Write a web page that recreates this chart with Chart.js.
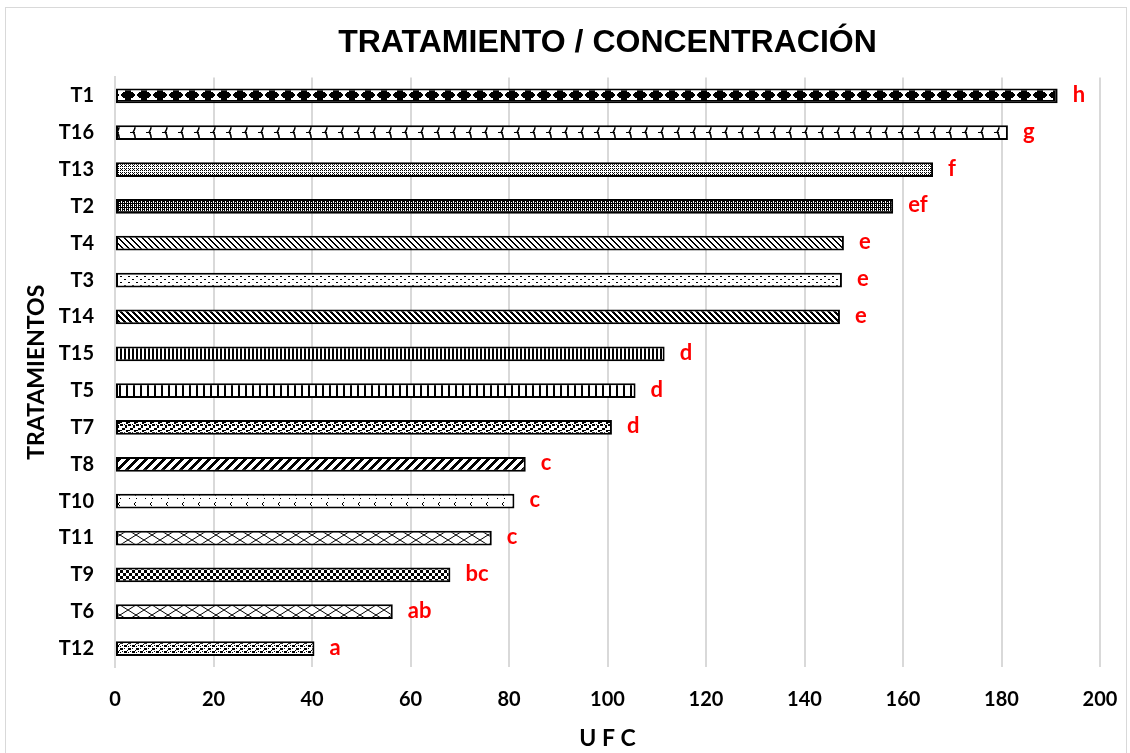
<!DOCTYPE html>
<html>
<head>
<meta charset="utf-8">
<script src="https://cdn.jsdelivr.net/npm/chart.js@4.4.0/dist/chart.umd.min.js"></script>
<style>
  html, body { margin: 0; padding: 0; background: #fff; }
  #wrap { position: relative; width: 1130px; height: 753px; }
</style>
</head>
<body>
<div id="wrap"><canvas id="chart" width="1130" height="753"></canvas></div>
<script>
// data
const treatments = ["T1", "T16", "T13", "T2", "T4", "T3", "T14", "T15", "T5", "T7", "T8", "T10", "T11", "T9", "T6", "T12"];
const ufc = [191.4, 181.3, 166.1, 158.0, 148.0, 147.6, 147.2, 111.6, 105.7, 100.9, 83.4, 81.1, 76.5, 68.1, 56.4, 40.5];
const letters = ["h", "g", "f", "ef", "e", "e", "e", "d", "d", "d", "c", "c", "c", "bc", "ab", "a"];
const xTicks = [0, 20, 40, 60, 80, 100, 120, 140, 160, 180, 200];

const LABEL_FONT = "Lato";

/* PATTERN TILES (Excel style fills) */
function tile(w, h, draw) {
  const c = document.createElement("canvas");
  c.width = w; c.height = h;
  const g = c.getContext("2d");
  g.fillStyle = "#fff"; g.fillRect(0, 0, w, h);
  g.fillStyle = "#000"; g.strokeStyle = "#000";
  draw(g, w, h);
  return g.createPattern(c, "repeat");
}

function pixels(g, w, h, test) {
  for (let y = 0; y < h; y++)
    for (let x = 0; x < w; x++)
      if (test(x, y)) g.fillRect(x, y, 1, 1);
}

// hourglass rows [x, width] around the middle of the T1 bar (tile row 11 ~ bar centre)
const hourglassRows = { "-5": [3, 10], "-4": [3, 10], "-3": [5, 6], "-2": [6, 4], "-1": [7, 2], "0": [7, 2], "1": [6, 4], "2": [5, 6], "3": [3, 10], "4": [3, 10] };

const patterns = {
  hourglass: tile(16, 12, g => {
    g.fillRect(0, 0, 16, 12);
    g.fillStyle = "#fff";
    Object.keys(hourglassRows).forEach(k => {
      const [x, w] = hourglassRows[k];
      g.fillRect(x, (11 + Number(k) + 12) % 12, w, 1);
    });
  }),
  shingle: tile(16, 12, g => {
    g.lineWidth = 1.5;
    g.beginPath(); g.arc(-4, 6, 11, -0.6, 0.6); g.stroke();
    g.fillRect(2, 0, 5, 1);
  }),
  dotGrid: tile(4, 4, (g, w, h) => pixels(g, w, h, (x, y) => (x % 2 === 0 && y % 2 === 0) || (x === 1 && y === 1))),
  darkDots: tile(4, 4, (g, w, h) => pixels(g, w, h, (x, y) => !((x + y) % 2 === 1 && y % 2 === 0) && !(x === 1 && y === 1))),
  lightDown: tile(6, 6, (g, w, h) => pixels(g, w, h, (x, y) => ((x - y + 12) % 6) < 2)),
  sparseDots: tile(8, 6, g => { g.fillRect(0, 0, 2, 1); g.fillRect(4, 3, 2, 1); }),
  darkDown: tile(6, 6, (g, w, h) => pixels(g, w, h, (x, y) => ((x - y + 12) % 6) < 3)),
  narrowVert: tile(4, 1, g => g.fillRect(0, 0, 2, 1)),
  wideVert: tile(7, 1, g => g.fillRect(0, 0, 2, 1)),
  confetti: tile(8, 8, g => {
    g.fillRect(0, 0, 3, 2); g.fillRect(5, 1, 2, 3); g.fillRect(2, 4, 3, 2);
    g.fillRect(6, 6, 2, 2); g.fillRect(0, 6, 2, 1); g.fillRect(4, 0, 1, 1);
  }),
  wideUp: tile(9, 9, (g, w, h) => pixels(g, w, h, (x, y) => ((x + y) % 9) < 4)),
  smallMarks: tile(16, 10, g => {
    g.fillRect(7, 2, 1, 1); g.fillRect(6, 3, 1, 2); g.fillRect(7, 5, 1, 1);
    g.fillRect(1, 8, 1, 1); g.fillRect(8, 8, 1, 1);
  }),
  lattice: tile(16, 10, g => {
    g.lineWidth = 1;
    g.beginPath(); g.moveTo(0, 0); g.lineTo(16, 10); g.moveTo(0, 10); g.lineTo(16, 0); g.stroke();
  }),
  checker: tile(6, 6, g => { g.fillRect(0, 0, 3, 3); g.fillRect(3, 3, 3, 3); }),
  weave: tile(8, 6, g => {
    g.fillRect(0, 0, 3, 2); g.fillRect(4, 0, 1, 1); g.fillRect(4, 3, 3, 2);
    g.fillRect(0, 4, 1, 1); g.fillRect(2, 3, 1, 1); g.fillRect(7, 2, 1, 1);
  })
};

const fills = [
  patterns.hourglass, patterns.shingle, patterns.dotGrid, patterns.darkDots,
  patterns.lightDown, patterns.sparseDots, patterns.darkDown, patterns.narrowVert,
  patterns.wideVert, patterns.confetti, patterns.wideUp, patterns.smallMarks,
  patterns.lattice, patterns.checker, patterns.lattice, patterns.weave
];

/* PLUGINS */
const framePlugin = {
  id: "frame",
  beforeDraw(chart) {
    const ctx = chart.ctx;
    ctx.save();
    ctx.fillStyle = "#fff";
    ctx.fillRect(0, 0, chart.width, chart.height);
    ctx.strokeStyle = "#d9d9d9";
    ctx.lineWidth = 1;
    ctx.strokeRect(5.5, 7.5, 1121, 760);
    ctx.restore();
  }
};

const letterPlugin = {
  id: "letters",
  afterDatasetsDraw(chart) {
    const ctx = chart.ctx;
    const meta = chart.getDatasetMeta(0);
    ctx.save();
    ctx.font = "bold 22px " + LABEL_FONT;
    ctx.fillStyle = "#ff0000";
    ctx.textAlign = "left";
    ctx.textBaseline = "alphabetic";
    meta.data.forEach((bar, i) => ctx.fillText(letters[i], bar.x + 15, bar.y + 6));
    ctx.restore();
  }
};

new Chart(document.getElementById("chart"), {
  type: "bar",
  data: {
    labels: treatments,
    datasets: [{
      data: ufc,
      backgroundColor: fills,
      borderColor: "#000",
      borderWidth: 2,
      borderSkipped: false,
      categoryPercentage: 1,
      barPercentage: 0.4
    }]
  },
  options: {
    indexAxis: "y",
    responsive: false,
    animation: false,
    layout: { padding: { top: 10, right: 30, bottom: 0, left: 0 } },
    plugins: {
      legend: { display: false },
      tooltip: { enabled: false },
      title: {
        display: true,
        fullSize: false,
        text: "TRATAMIENTO / CONCENTRACIÓN",
        color: "#000",
        font: { family: "Liberation Sans", size: 32, weight: "bold" },
        padding: { top: 14, bottom: 15 }
      }
    },
    scales: {
      x: {
        min: 0,
        max: 200,
        afterBuildTicks: axis => { axis.ticks = xTicks.map(v => ({ value: v })); },
        afterFit: axis => { axis.height = 86; axis.paddingLeft = 0; axis.paddingRight = 0; },
        grid: { color: "#d9d9d9", lineWidth: 2, drawTicks: false },
        border: { display: false },
        ticks: { color: "#000", padding: 21, font: { family: LABEL_FONT, size: 20, weight: "bold" } },
        title: {
          display: true,
          text: "U F C",
          color: "#000",
          font: { family: LABEL_FONT, size: 23, weight: "bold" },
          padding: { top: 0, bottom: 1 }
        }
      },
      y: {
        afterFit: axis => { axis.width = 115; },
        grid: { display: false, drawTicks: false },
        border: { display: true, color: "#d9d9d9", width: 2 },
        ticks: { color: "#000", padding: 21, font: { family: LABEL_FONT, size: 20, weight: "bold" } },
        title: {
          display: true,
          text: "TRATAMIENTOS",
          color: "#000",
          font: { family: LABEL_FONT, size: 23, weight: "bold" },
          padding: { top: 23, bottom: 0 }
        }
      }
    }
  },
  plugins: [framePlugin, letterPlugin]
});
</script>
</body>
</html>
